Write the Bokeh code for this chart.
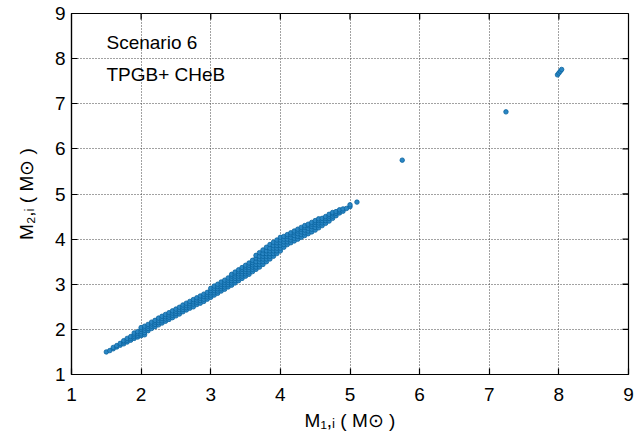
from bokeh.plotting import figure
from bokeh.models import Range1d, FixedTicker, Label
from bokeh.embed import file_html
from bokeh.resources import INLINE

# ---------------- data ----------------
band_m1 = [1.50, 1.55, 1.60, 1.65, 1.70, 1.75, 1.80, 1.85, 1.90, 1.95,
           2.00, 2.05, 2.10, 2.15, 2.20, 2.25, 2.30, 2.35, 2.40, 2.45,
           2.50, 2.55, 2.60, 2.65, 2.70, 2.75, 2.80, 2.85, 2.90, 2.95,
           3.00, 3.05, 3.10, 3.15, 3.20, 3.25, 3.30, 3.35, 3.40, 3.45,
           3.50, 3.55, 3.60, 3.65, 3.70, 3.75, 3.80, 3.85, 3.90, 3.95,
           4.00, 4.05, 4.10, 4.15, 4.20, 4.25, 4.30, 4.35, 4.40, 4.45,
           4.50, 4.55, 4.60, 4.65, 4.70, 4.75, 4.80, 4.85, 4.90, 4.95,
           5.00, 5.10]
band_m2 = [
    [1.50], [1.53], [1.57, 1.60], [1.61, 1.64], [1.65, 1.69],
    [1.68, 1.72, 1.75], [1.72, 1.76, 1.80], [1.76, 1.80, 1.84],
    [1.80, 1.84, 1.88, 1.92], [1.83, 1.87, 1.91, 1.95],
    [1.86, 1.90, 1.95, 2.00, 2.04], [1.88, 1.93, 1.98, 2.03, 2.07],
    [1.97, 2.02, 2.07, 2.11], [2.02, 2.07, 2.12, 2.16],
    [2.06, 2.11, 2.16, 2.20], [2.10, 2.15, 2.20, 2.25],
    [2.14, 2.19, 2.24, 2.29], [2.18, 2.23, 2.28, 2.33],
    [2.22, 2.27, 2.32, 2.37], [2.26, 2.31, 2.36, 2.41],
    [2.30, 2.35, 2.40, 2.45], [2.34, 2.39, 2.44, 2.49],
    [2.39, 2.44, 2.49, 2.54], [2.43, 2.48, 2.53, 2.58],
    [2.47, 2.52, 2.57, 2.62], [2.50, 2.56, 2.61, 2.66],
    [2.55, 2.60, 2.65, 2.70], [2.58, 2.64, 2.69, 2.74],
    [2.62, 2.67, 2.73, 2.78], [2.67, 2.72, 2.77, 2.82],
    [2.71, 2.76, 2.81, 2.86, 2.91], [2.76, 2.81, 2.86, 2.91, 2.96],
    [2.80, 2.85, 2.90, 2.95, 3.00], [2.85, 2.90, 2.95, 3.00, 3.05],
    [2.89, 2.94, 2.99, 3.04, 3.09], [2.94, 2.99, 3.04, 3.09, 3.14],
    [2.98, 3.03, 3.08, 3.13, 3.18, 3.22], [3.03, 3.08, 3.13, 3.18, 3.23, 3.27],
    [3.08, 3.13, 3.18, 3.23, 3.28, 3.32], [3.13, 3.18, 3.23, 3.28, 3.33, 3.37],
    [3.18, 3.23, 3.28, 3.33, 3.38, 3.42], [3.22, 3.27, 3.32, 3.37, 3.42, 3.47],
    [3.28, 3.33, 3.38, 3.43, 3.48, 3.53], [3.33, 3.38, 3.44, 3.50, 3.58, 3.64],
    [3.38, 3.44, 3.50, 3.56, 3.62, 3.70], [3.44, 3.50, 3.56, 3.62, 3.68, 3.76],
    [3.50, 3.56, 3.62, 3.68, 3.74, 3.82], [3.56, 3.62, 3.68, 3.74, 3.80, 3.88],
    [3.62, 3.68, 3.74, 3.80, 3.86, 3.93], [3.68, 3.74, 3.80, 3.86, 3.92, 3.98],
    [3.74, 3.80, 3.86, 3.92, 3.98, 4.04], [3.82, 3.88, 3.94, 4.00, 4.06],
    [3.88, 3.94, 4.00, 4.06, 4.10], [3.92, 3.98, 4.04, 4.10, 4.14],
    [3.96, 4.02, 4.08, 4.14, 4.18], [4.00, 4.06, 4.12, 4.18, 4.22],
    [4.04, 4.10, 4.16, 4.22, 4.26], [4.08, 4.14, 4.20, 4.26, 4.30],
    [4.12, 4.18, 4.24, 4.30, 4.33], [4.16, 4.22, 4.28, 4.33, 4.37],
    [4.20, 4.26, 4.32, 4.37, 4.41], [4.25, 4.31, 4.36, 4.41, 4.45],
    [4.30, 4.36, 4.41, 4.46], [4.35, 4.41, 4.46, 4.50],
    [4.40, 4.46, 4.51, 4.55], [4.46, 4.51, 4.56, 4.59],
    [4.52, 4.57, 4.61], [4.58, 4.62, 4.65], [4.62, 4.67], [4.68],
    [4.72, 4.76], [4.82],
]
outlier_m1 = [5.75, 7.24, 7.98, 8.00, 8.02, 8.04]
outlier_m2 = [5.75, 6.82, 7.64, 7.68, 7.72, 7.76]

tick_values = [1, 2, 3, 4, 5, 6, 7, 8, 9]
text_lines = ["Scenario 6", "TPGB+ CHeB"]
x_title = "M\u2081,\u1d62 ( M\u2299 )"
y_title = "M\u2082,\u1d62 ( M\u2299 )"

m1 = [x for x, ys in zip(band_m1, band_m2) for _ in ys] + outlier_m1
m2 = [y for ys in band_m2 for y in ys] + outlier_m2

# ---------------- figure ----------------
FONT = "Liberation Sans"
LEFT, RIGHT, TOP, BOTTOM = 71, 628, 13, 374   # frame edges in px
p = figure(width=635, height=437, output_backend="svg", toolbar_location=None,
           x_range=Range1d(1, 9), y_range=Range1d(1, 9),
           min_border_left=LEFT, min_border_right=635 - RIGHT,
           min_border_top=TOP, min_border_bottom=437 - BOTTOM)
p.outline_line_color = "black"
p.outline_line_width = 1.2
p.background_fill_color = "white"
p.border_fill_color = "white"

for ax in (p.xaxis[0], p.yaxis[0]):
    ax.ticker = FixedTicker(ticks=tick_values)
    ax.major_tick_in = 6
    ax.major_tick_out = 0
    ax.minor_tick_line_color = None
    ax.axis_line_width = 1.2
    ax.major_tick_line_width = 1.2
    ax.major_label_text_font = FONT
    ax.major_label_text_font_size = "19px"
    ax.major_label_text_color = "black"
    ax.axis_label_text_font = FONT
    ax.axis_label_text_font_size = "19px"
    ax.axis_label_text_font_style = "normal"
    ax.axis_label_text_color = "black"
p.xaxis.major_label_standoff = 13
p.yaxis.major_label_standoff = 6
p.xaxis.axis_label = x_title
p.yaxis.axis_label = y_title
p.xaxis.axis_label_standoff = 6
p.yaxis.axis_label_standoff = 15

for g in (p.xgrid[0], p.ygrid[0]):
    g.ticker = FixedTicker(ticks=tick_values)
    g.grid_line_color = "#444444"
    g.grid_line_dash = "1 2"
    g.grid_line_width = 1

# mirrored inward ticks on the top and right frame edges (6 px long)
tx = 6 * 8 / (RIGHT - LEFT)
ty = 6 * 8 / (BOTTOM - TOP)
inner = tick_values[1:-1]
p.segment(x0=inner, y0=[9] * len(inner), x1=inner, y1=[9 - ty] * len(inner),
          line_color="black", line_width=1.3)
p.segment(x0=[9] * len(inner), y0=inner, x1=[9 - tx] * len(inner), y1=inner,
          line_color="black", line_width=1.3)

p.scatter(m1, m2, size=4.5, marker="circle", fill_color="#2a86c4",
          line_color="#0b64a0", line_width=0.8)

# in-frame text, screen units relative to the frame's bottom-left corner
for txt, base in zip(text_lines, [42, 74]):
    p.add_layout(Label(x=106 - LEFT, y=BOTTOM - base, x_units="screen",
                       y_units="screen", text=txt, text_font=FONT,
                       text_font_size="19px", text_baseline="alphabetic",
                       text_color="black"))

open("out.html", "w").write(file_html(p, INLINE))
